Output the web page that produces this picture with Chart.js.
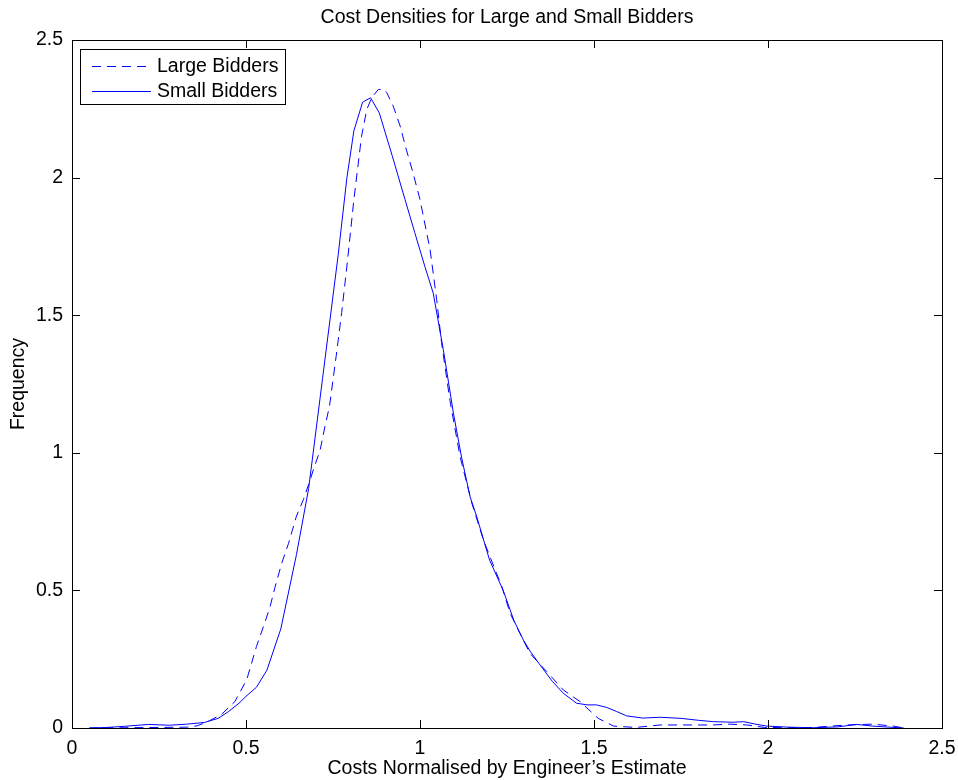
<!DOCTYPE html>
<html>
<head>
<meta charset="utf-8">
<script src="https://cdn.jsdelivr.net/npm/chart.js@4/dist/chart.umd.min.js"></script>
<style>
  html, body { margin: 0; padding: 0; background: #ffffff; }
  #wrap { width: 958px; height: 780px; }
</style>
</head>
<body>
<div id="wrap"><canvas id="c" width="958" height="780"></canvas></div>
<script>
// ---- Data ----
const titleText = 'Cost Densities for Large and Small Bidders';
const xLabel = 'Costs Normalised by Engineer\u2019s Estimate';
const yLabel = 'Frequency';
const seriesNames = ['Large Bidders', 'Small Bidders'];
const xTicks = [0, 0.5, 1, 1.5, 2, 2.5];
const yTicks = [0, 0.5, 1, 1.5, 2, 2.5];
const xTickLabels = ['0', '0.5', '1', '1.5', '2', '2.5'];
const yTickLabels = ['0', '0.5', '1', '1.5', '2', '2.5'];

const largeX = [0.05, 0.15, 0.25, 0.33, 0.36, 0.39, 0.43, 0.468, 0.502, 0.53,
  0.55, 0.569, 0.583, 0.603, 0.622, 0.645, 0.665, 0.684, 0.694, 0.713,
  0.727, 0.74, 0.759, 0.775, 0.791, 0.81, 0.832, 0.847, 0.861, 0.88,
  0.897, 0.904, 0.923, 0.943, 0.961, 0.98, 1.0, 1.029, 1.048, 1.062,
  1.086, 1.115, 1.149, 1.182, 1.235, 1.259, 1.287, 1.316, 1.364, 1.412,
  1.46, 1.512, 1.556, 1.62, 1.69, 1.75, 1.84, 1.89, 1.94, 1.99,
  2.06, 2.13, 2.226, 2.3, 2.36, 2.39];
const largeY = [0, 0.001, 0.002, 0.003, 0.008, 0.023, 0.05, 0.096, 0.175, 0.296,
  0.368, 0.44, 0.51, 0.6, 0.67, 0.77, 0.83, 0.9, 0.94, 1.01,
  1.096, 1.17, 1.35, 1.51, 1.69, 1.92, 2.15, 2.247, 2.29, 2.32,
  2.32, 2.31, 2.26, 2.187, 2.10, 2.017, 1.92, 1.738, 1.556, 1.4,
  1.19, 0.987, 0.817, 0.684, 0.514, 0.417, 0.344, 0.271, 0.205, 0.138,
  0.096, 0.035, 0.007, 0.002, 0.011, 0.011, 0.011, 0.014, 0.011, 0.002,
  0.001, 0.002, 0.011, 0.014, 0.007, 0];

const smallX = [0.05, 0.1, 0.15, 0.22, 0.28, 0.33, 0.38, 0.42, 0.45, 0.48,
  0.5, 0.53, 0.56, 0.6, 0.645, 0.68, 0.72, 0.765, 0.79, 0.81,
  0.835, 0.858, 0.883, 0.92, 0.957, 0.985, 1.014, 1.038, 1.067, 1.096,
  1.12, 1.144, 1.163, 1.2, 1.239, 1.27, 1.297, 1.316, 1.345, 1.38,
  1.412, 1.45, 1.48, 1.507, 1.536, 1.565, 1.594, 1.64, 1.69, 1.75,
  1.8, 1.843, 1.9, 1.93, 1.96, 1.996, 2.06, 2.13, 2.2, 2.255,
  2.3, 2.35, 2.39];
const smallY = [0, 0.002, 0.006, 0.013, 0.01, 0.014, 0.02, 0.035, 0.06, 0.09,
  0.115, 0.148, 0.21, 0.36, 0.63, 0.87, 1.27, 1.72, 2.0, 2.17,
  2.274, 2.29, 2.235, 2.08, 1.92, 1.80, 1.677, 1.58, 1.375, 1.144,
  0.98, 0.84, 0.768, 0.61, 0.50, 0.39, 0.32, 0.28, 0.229, 0.17,
  0.126, 0.09, 0.084, 0.084, 0.075, 0.06, 0.044, 0.036, 0.039, 0.035,
  0.028, 0.023, 0.021, 0.023, 0.015, 0.007, 0.003, 0.001, 0.004, 0.013,
  0.007, 0.003, 0];

// ---- Build chart ----
const FONT = '"Liberation Sans", Arial, Helvetica, sans-serif';
const FS = 19.5;
const toPts = (xs, ys) => xs.map((x, i) => ({ x: x, y: ys[i] }));

const boxTicksLegend = {
  id: 'boxTicksLegend',
  afterDraw(chart) {
    const ctx = chart.ctx;
    const a = chart.chartArea;
    const xs = chart.scales.x, ys = chart.scales.y;
    ctx.save();
    // title centred over the plot area
    ctx.fillStyle = '#000';
    ctx.font = FS + 'px ' + FONT;
    ctx.textAlign = 'center';
    ctx.textBaseline = 'middle';
    ctx.fillText(titleText, (a.left + a.right) / 2, 18);

    ctx.strokeStyle = '#000';
    ctx.lineWidth = 1;
    // box
    ctx.strokeRect(Math.round(a.left) + 0.5, Math.round(a.top) + 0.5,
      Math.round(a.right - a.left), Math.round(a.bottom - a.top));
    // inward ticks
    const TL = 8;
    ctx.beginPath();
    xTicks.forEach(v => {
      const px = Math.round(xs.getPixelForValue(v)) + 0.5;
      ctx.moveTo(px, a.bottom); ctx.lineTo(px, a.bottom - TL);
      ctx.moveTo(px, a.top); ctx.lineTo(px, a.top + TL);
    });
    yTicks.forEach(v => {
      const py = Math.round(ys.getPixelForValue(v)) + 0.5;
      ctx.moveTo(a.left, py); ctx.lineTo(a.left + TL, py);
      ctx.moveTo(a.right, py); ctx.lineTo(a.right - TL, py);
    });
    ctx.stroke();
    // legend
    const lx = 80, ly = 49, lw = 205, lh = 55;
    ctx.fillStyle = '#fff';
    ctx.fillRect(lx, ly, lw, lh);
    ctx.strokeRect(lx + 0.5, ly + 0.5, lw, lh);
    ctx.font = FS + 'px ' + FONT;
    ctx.textBaseline = 'middle';
    ctx.textAlign = 'left';
    const rows = [66, 91];
    chart.data.datasets.forEach((ds, i) => {
      const y = rows[i] + 0.5;
      ctx.strokeStyle = ds.borderColor;
      ctx.lineWidth = ds.borderWidth;
      ctx.setLineDash(ds.borderDash || []);
      ctx.beginPath();
      ctx.moveTo(92, y); ctx.lineTo(151, y);
      ctx.stroke();
      ctx.setLineDash([]);
      ctx.fillStyle = '#000';
      ctx.fillText(ds.label, 157, rows[i] + 1);
    });
    ctx.restore();
  }
};

new Chart(document.getElementById('c'), {
  type: 'line',
  data: {
    datasets: [
      { label: seriesNames[0], data: toPts(largeX, largeY), borderColor: '#0000ff',
        borderWidth: 1, borderDash: [9, 6], pointRadius: 0, tension: 0, fill: false },
      { label: seriesNames[1], data: toPts(smallX, smallY), borderColor: '#0000ff',
        borderWidth: 1, pointRadius: 0, tension: 0, fill: false }
    ]
  },
  options: {
    responsive: false,
    animation: false,
    events: [],
    layout: { padding: { top: 40, right: 0, left: 0, bottom: 0 } },
    plugins: {
      legend: { display: false },
      tooltip: { enabled: false },
      title: { display: false }
    },
    scales: {
      x: {
        type: 'linear', min: 0, max: 2.5,
        afterBuildTicks: s => { s.ticks = xTicks.map(v => ({ value: v })); },
        afterFit: s => { s.height = 52; s.paddingLeft = 0; s.paddingRight = 16; },
        grid: { display: false, drawTicks: false },
        border: { display: false },
        ticks: { color: '#000', padding: 9, maxRotation: 0, autoSkip: false,
          font: { family: FONT, size: FS },
          callback: (v) => xTickLabels[xTicks.indexOf(v)] },
        title: { display: true, text: xLabel, color: '#000',
          font: { family: FONT, size: FS, lineHeight: 1.2 }, padding: { top: 0, bottom: 0 } }
      },
      y: {
        type: 'linear', min: 0, max: 2.5,
        afterBuildTicks: s => { s.ticks = yTicks.map(v => ({ value: v })); },
        afterFit: s => { s.width = 72; s.paddingTop = 0; s.paddingBottom = 0; },
        grid: { display: false, drawTicks: false },
        border: { display: false },
        ticks: { color: '#000', padding: 9, autoSkip: false,
          font: { family: FONT, size: FS },
          callback: (v) => yTickLabels[yTicks.indexOf(v)] },
        title: { display: true, text: yLabel, color: '#000',
          font: { family: FONT, size: FS, lineHeight: 1.2 }, padding: { top: 7, bottom: 0 } }
      }
    }
  },
  plugins: [boxTicksLegend]
});
</script>
</body>
</html>
